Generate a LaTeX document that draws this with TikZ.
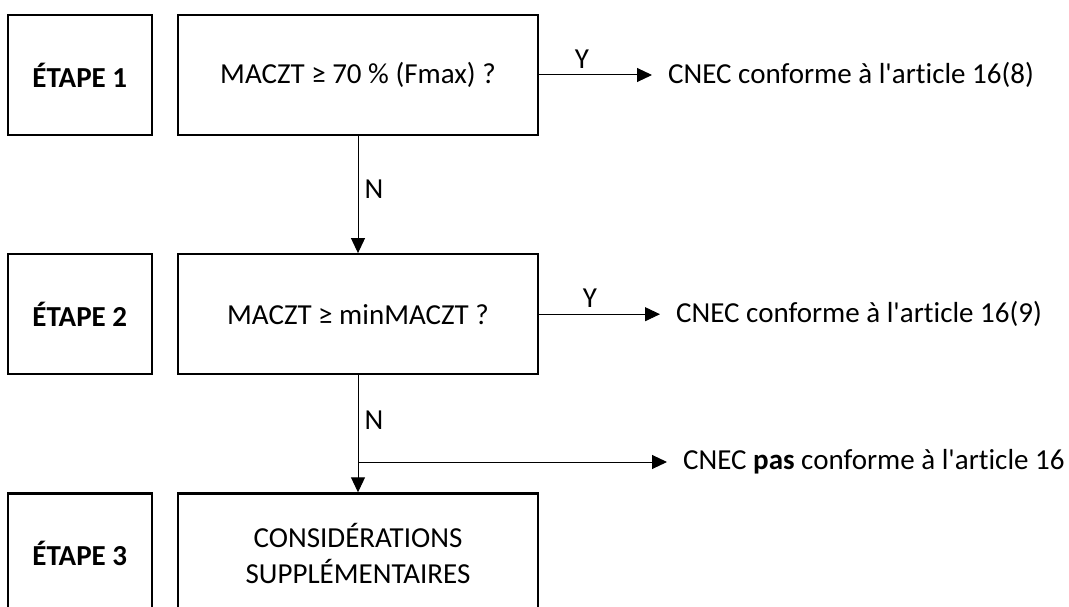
\documentclass[tikz,border=0pt]{standalone}
\usepackage{fontspec}
\setmainfont{Carlito}[Ligatures=NoCommon]
\usetikzlibrary{positioning,arrows.meta}

\tikzset{
    box/.style={draw, line width=2.2pt, align=center, minimum height=120pt},
    flow/.style={-{Triangle[length=15pt,width=14pt]}, line width=1pt},
    result/.style={anchor=west, inner xsep=16pt},
    answer/.style={inner sep=6pt}
}

\begin{document}
\begin{tikzpicture}[x=1pt, y=-1pt, node distance=24pt, font=\fontsize{29}{36}\selectfont]
        \useasboundingbox (0,0) rectangle (1069,607);
        % Nodes
        \node (q1) [box, minimum width=360pt] at (358,75) {MACZT ≥ 70 \% (Fmax) ?};
        \node (e1) [box, minimum width=144pt, left=of q1] {\textbf{ÉTAPE 1}};
        \node (q2) [box, minimum width=360pt, below=117pt of q1] {MACZT ≥ minMACZT ?};
        \node (e2) [box, minimum width=144pt, left=of q2] {\textbf{ÉTAPE 2}};
        \node (q3) [box, minimum width=360pt, below=117pt of q2] {CONSIDÉRATIONS\\SUPPLÉMENTAIRES};
        \node (e3) [box, minimum width=144pt, left=of q3] {\textbf{ÉTAPE 3}};

        \node (r1) [result] at (q1.east -| 652,0) {CNEC conforme à l\textquotesingle article 16(8)};
        \node (r2) [result] at (q2.east -| 660,0) {CNEC conforme à l\textquotesingle article 16(9)};
        \node (r3) [result] at (667,462) {CNEC \textbf{pas} conforme à l\textquotesingle article 16};
        \coordinate (j) at (q2.south |- r3.west);

        % Edges
        \draw[flow] (q1.east) -- node[answer, above, pos=0.38] {Y} (r1.west);
        \draw[flow] (q2.east) -- node[answer, above, pos=0.42] {Y} (r2.west);
        \draw[flow] (q1) -- node[answer, right, pos=0.45] {N} (q2);
        \draw[flow] (q2) -- node[answer, right, pos=0.38] {N} (q3);
        \draw[flow] (j) -- (r3.west);
    \end{tikzpicture}
\end{document}
